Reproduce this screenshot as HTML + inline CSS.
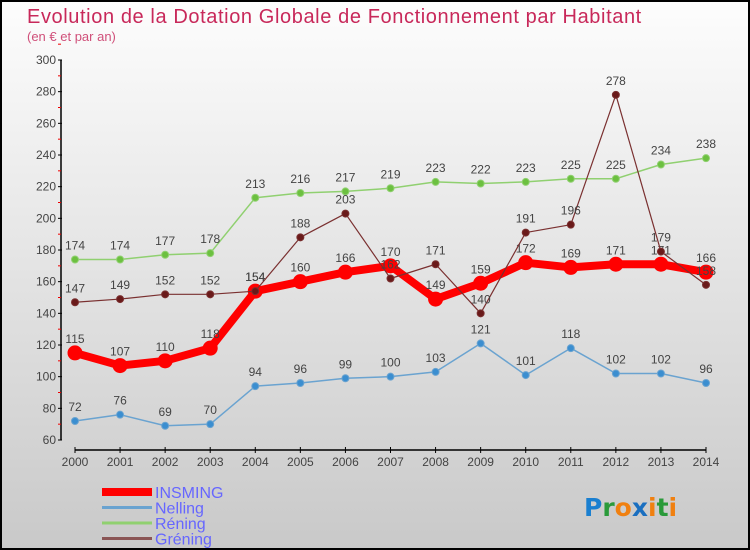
<!DOCTYPE html>
<html><head><meta charset="utf-8"><style>
html,body{margin:0;padding:0}
body{width:750px;height:550px;overflow:hidden;font-family:"Liberation Sans",sans-serif}
#wrap{position:relative;width:746px;height:546px;border:2px solid #000;background:linear-gradient(#fdfdfd,#c9c9c9)}
</style></head><body>
<div id="wrap">
<svg id="chart" width="746" height="546" style="position:absolute;left:0;top:0">
<text x="25" y="21" font-size="20" letter-spacing="0.6" fill="#c8285a" font-weight="300">Evolution de la Dotation Globale de Fonctionnement par Habitant</text>
<text x="25" y="39" font-size="13" fill="#d0507a">(en € et par an)</text>
<g id="axes"></g><g id="series"></g>
<text x="582" y="514" font-size="25" font-weight="bold" font-family="'DejaVu Sans',sans-serif"><tspan fill="#1a7fd0">P</tspan><tspan fill="#2a9a3a">r</tspan><tspan fill="#f08010">o</tspan><tspan fill="#1a6fc0">x</tspan><tspan fill="#f08010">i</tspan><tspan fill="#2a9a3a">t</tspan><tspan fill="#f08010">i</tspan></text>
</svg>
</div>
<script>
const years=[2000,2001,2002,2003,2004,2005,2006,2007,2008,2009,2010,2011,2012,2013,2014];
const yTicks=[60,80,100,120,140,160,180,200,220,240,260,280,300];
const insming=[115,107,110,118,154,160,166,170,149,159,172,169,171,171,166];
const nelling=[72,76,69,70,94,96,99,100,103,121,101,118,102,102,96];
const rening=[174,174,177,178,213,216,217,219,223,222,223,225,225,234,238];
const grening=[147,149,152,152,154,188,203,162,171,140,191,196,278,179,158];
const NS="http://www.w3.org/2000/svg";
const ox=-2,oy=-2;
function xs(i){return 75+ox+i*(706-75)/(years.length-1);}
function ys(v){return 440+oy-(v-60)*(380/240);}
function mk(tag,attrs,parent){const e=document.createElementNS(NS,tag);for(const k in attrs)e.setAttribute(k,attrs[k]);parent.appendChild(e);return e;}
const axes=document.getElementById('axes'),ser=document.getElementById('series');
let ya=mk('line',{x1:61+ox,y1:ys(300),x2:61+ox,y2:ys(60),stroke:'#000','stroke-width':1.5},axes);

let xa=mk('line',{x1:xs(0),y1:450+oy,x2:xs(14),y2:450+oy,stroke:'#000','stroke-width':1.5},axes);

yTicks.forEach(v=>{
 mk('line',{x1:58+ox,x2:62+ox,y1:ys(v),y2:ys(v),stroke:'#000'},axes);
 mk('line',{x1:58+ox,x2:61+ox,y1:ys(v+10),y2:ys(v+10),stroke:'#e00'},axes);
 const t=mk('text',{x:56+ox,y:ys(v)+4,'text-anchor':'end','font-size':12,fill:'#444'},axes);t.textContent=v;
 
});
years.forEach((y,i)=>{
 mk('line',{x1:xs(i),x2:xs(i),y1:447+oy,y2:453+oy,stroke:'#000'},axes);
 const t=mk('text',{x:xs(i),y:466+oy,'text-anchor':'middle','font-size':12,fill:'#444'},axes);t.textContent=y;
 
});
function draw(vals,name,color,dot,w,r){
 const g=mk('g',{},ser);
 
 const p=mk('polyline',{points:vals.map((v,i)=>xs(i)+','+ys(v)).join(' '),fill:'none',stroke:color,'stroke-width':w,'stroke-linejoin':'round'},g);
 
 vals.forEach((v,i)=>{
  const c=mk('circle',{cx:xs(i),cy:ys(v),r:r,fill:dot,stroke:color,'stroke-width':1},g);
  
  const t=mk('text',{x:xs(i),y:ys(v)-10,'text-anchor':'middle','font-size':12,fill:'#444'},g);t.textContent=v;
  
 });
}
draw(nelling,'nelling','#6aa3d0','#3b8ed0',1.5,3.5);
draw(rening,'rening','#90d070','#6cc040',1.5,3.5);
draw(insming,'insming','#ff0000','#ff0000',8,7);
draw(grening,'grening','#7a3030','#6a1a1a',1.2,3.5);
const leg=[['INSMING','#ff0000',8],['Nelling','#6aa3d0',3],['Réning','#90d070',3],['Gréning','#8a5555',3]];
leg.forEach((l,i)=>{
 const y=492+i*15.5+oy;
 const ln=mk('line',{x1:100,x2:150,y1:y,y2:y,stroke:l[1],'stroke-width':l[2]},ser);
 
 const t=mk('text',{x:153,y:y+6,'font-size':16,fill:'#6666ff','font-weight':300},ser);t.textContent=l[0];
 
});
</script>
</body></html>
